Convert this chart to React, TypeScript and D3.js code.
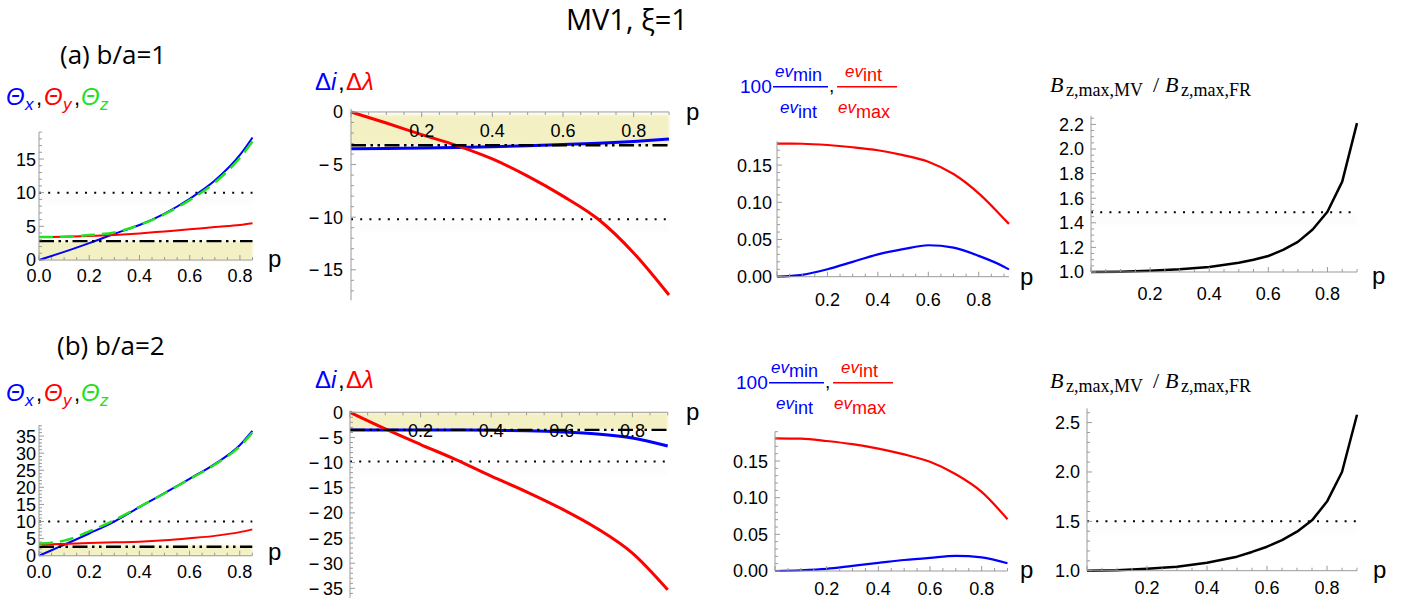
import React from 'react';
import * as d3 from 'd3';

const BLUE = '#0000ff';
const RED = '#ff0000';
const GREEN = '#22e022';
const AXIS = '#9a9a9a';
const SANS = '"Liberation Sans", Arial, sans-serif';
const SERIF = '"Liberation Serif", "Times New Roman", serif';
const TITLE_FONT = '"Open Sans", sans-serif';

// ---------- data ----------
const pTheta = [0, 0.05, 0.1, 0.2, 0.3, 0.4, 0.5, 0.6, 0.7, 0.8, 0.85];
const thetaXa = [0, 0.6, 1.2, 2.5, 3.9, 5.2, 6.9, 9.1, 11.8, 15.6, 18.2];
const thetaYa = [3.4, 3.42, 3.45, 3.55, 3.72, 3.95, 4.25, 4.55, 4.9, 5.2, 5.45];
const thetaZa = [3.4, 3.42, 3.45, 3.7, 4.1, 5.2, 6.8, 8.9, 11.5, 15.2, 17.6];
const thetaXb = [0, 1.6, 3.2, 6.5, 10.0, 14.2, 18.3, 22.5, 26.8, 32.3, 36.5];
const thetaYb = [3.3, 3.35, 3.45, 3.7, 3.9, 4.1, 4.5, 5.1, 5.8, 6.9, 7.7];
const thetaZb = [3.6, 3.8, 4.4, 7.1, 10.4, 14.3, 18.2, 22.4, 26.6, 32.0, 36.0];

const pDelta = [0, 0.1, 0.2, 0.3, 0.4, 0.5, 0.6, 0.7, 0.8, 0.9];
const deltaIa = [-3.5, -3.47, -3.43, -3.37, -3.3, -3.21, -3.1, -2.97, -2.8, -2.58];
const deltaLa = [0, -1.05, -2.15, -3.2, -4.47, -6.1, -8.0, -10.2, -13.4, -17.4];
const deltaIb = [-3.5, -3.5, -3.5, -3.52, -3.58, -3.68, -3.9, -4.3, -5.1, -6.7];
const deltaLb = [0, -3.3, -6.4, -9.4, -12.7, -15.8, -19.2, -23.1, -28.0, -35.3];

const pEvA = [0, 0.1, 0.2, 0.3, 0.4, 0.5, 0.6, 0.7, 0.8, 0.9, 0.92];
const evMinA = [0, 0.0025, 0.01, 0.02, 0.03, 0.037, 0.0423, 0.039, 0.028, 0.0135, 0.0098];
const evIntA = [0.179, 0.1787, 0.177, 0.174, 0.17, 0.1635, 0.1546, 0.138, 0.112, 0.078, 0.071];
const pEvB = [0, 0.1, 0.2, 0.3, 0.4, 0.5, 0.6, 0.7, 0.8, 0.9];
const evMinB = [0, 0.001, 0.003, 0.007, 0.011, 0.015, 0.018, 0.0205, 0.0185, 0.0105];
const evIntB = [0.181, 0.1805, 0.1773, 0.173, 0.167, 0.159, 0.149, 0.132, 0.108, 0.0705];

const pB = [0, 0.1, 0.2, 0.3, 0.4, 0.5, 0.55, 0.6, 0.65, 0.7, 0.75, 0.8, 0.85, 0.9];
const bRatioA = [1.0, 1.003, 1.01, 1.022, 1.04, 1.075, 1.1, 1.13, 1.18, 1.245, 1.345, 1.49, 1.735, 2.21];
const bRatioB = [1.0, 1.005, 1.02, 1.04, 1.08, 1.142, 1.19, 1.243, 1.31, 1.395, 1.51, 1.7, 2.0, 2.58];

// reference levels
const thetaDotted = [10, 10];
const thetaDashDot = [2.8, 2.6];
const thetaBand = [[0, 2.8], [0, 3.0]];
const deltaDotted = [-10.2, -9.8];
const deltaDashDot = [-3.17, -3.5];
const deltaBand = [[-3.2, -0.25], [-3.5, -0.1]];
const bDotted = [1.485, 1.5];

const xTicksTheta = [0, 0.2, 0.4, 0.6, 0.8];
const xTicksInner = [0.2, 0.4, 0.6, 0.8];
const yTicksThetaA = [0, 5, 10, 15];
const yTicksThetaB = [0, 5, 10, 15, 20, 25, 30, 35];
const yTicksDeltaA = [0, -5, -10, -15];
const yTicksDeltaB = [0, -5, -10, -15, -20, -25, -30, -35];
const yTicksEv = [0, 0.05, 0.1, 0.15];
const yTicksBA = [1.0, 1.2, 1.4, 1.6, 1.8, 2.0, 2.2];
const yTicksBB = [1.0, 1.5, 2.0, 2.5];

type Series = { p: number[]; v: number[]; color: string; width: number; dash?: string; linear?: boolean };

type PanelProps = {
  xMax: number; xPx: [number, number];
  yDom: [number, number]; yPx: [number, number];
  yMajor: number[]; yMinorStep: number; yFmt: (v: number) => string;
  xMajor: number[]; xAxisVal: number; xLabDy: number; yGap: number;
  series: Series[];
  band?: number[]; dotted?: number; dashDot?: number;
};

const fmtInt = (v: number) => String(v);
const fmtNeg = (v: number) => (v === 0 ? '0' : '\u2212\u2009' + Math.abs(v));
const fmt2 = d3.format('.2f');
const fmt1 = d3.format('.1f');

function Panel(props: PanelProps) {
  const { xMax, xPx, yDom, yPx, yMajor, yMinorStep, yFmt, xMajor, xAxisVal, xLabDy, yGap, series, band, dotted, dashDot } = props;
  const x = d3.scaleLinear().domain([0, xMax]).range(xPx);
  const y = d3.scaleLinear().domain(yDom).range(yPx);
  const left = xPx[0];
  const right = xPx[1];
  const top = yPx[1];
  const bottom = yPx[0];
  const ax = y(xAxisVal);
  const dir = ax > (top + bottom) / 2 ? -1 : 1;
  const xMinor = d3.range(0, xMax + 1e-9, 0.05);
  const yMinor = d3.range(Math.ceil(yDom[0] / yMinorStep - 1e-9) * yMinorStep, yDom[1] + 1e-9, yMinorStep);
  const isMajorX = (v: number) => Math.abs(v / 0.2 - Math.round(v / 0.2)) < 1e-6;
  const isMajorY = (v: number) => yMajor.some((m) => Math.abs(m - v) < yMinorStep / 10);
  const lineGen = (s: Series) =>
    d3
      .line<number>()
      .x((_, i) => x(s.p[i]))
      .y((d) => y(d))
      .curve(s.linear ? d3.curveLinear : d3.curveMonotoneX)(s.v) || '';
  return (
    <g>
      {band && (
        <rect x={left} y={y(band[1])} width={right - left} height={y(band[0]) - y(band[1])} fill="#f3f0c3" filter="url(#soft)" />
      )}
      {dotted !== undefined && (
        <rect x={left} y={y(dotted) + 1} width={right - left} height={12} fill="#ececec" opacity={0.12} filter="url(#soft)" />
      )}
      {dotted !== undefined && (
        <line x1={left} x2={right} y1={y(dotted)} y2={y(dotted)} stroke="#000" strokeWidth={2} strokeDasharray="2 7.2" />
      )}
      {series.map((s, i) => (
        <path key={i} d={lineGen(s)} fill="none" stroke={s.color} strokeWidth={s.width} strokeDasharray={s.dash} strokeLinejoin="round" />
      ))}
      {dashDot !== undefined && (
        <line x1={left} x2={right} y1={y(dashDot)} y2={y(dashDot)} stroke="#000" strokeWidth={2.4} strokeDasharray="15 4.5 2.5 4.5 2.5 4.5" />
      )}
      <line x1={left} x2={left} y1={top} y2={bottom} stroke={AXIS} strokeWidth={1} />
      <line x1={left} x2={right} y1={ax} y2={ax} stroke={AXIS} strokeWidth={1} />
      {yMinor.map((v, i) => (
        <line key={'ym' + i} x1={left} x2={left + (isMajorY(v) ? 5 : 3)} y1={y(v)} y2={y(v)} stroke={AXIS} strokeWidth={1} />
      ))}
      {xMinor.map((v, i) => (
        <line key={'xm' + i} x1={x(v)} x2={x(v)} y1={ax} y2={ax + dir * (isMajorX(v) ? 5 : 3)} stroke={AXIS} strokeWidth={1} />
      ))}
      {yMajor.map((v, i) => (
        <text key={'yl' + i} x={left - yGap} y={y(v)} dy="0.36em" textAnchor="end" fontFamily={SANS} fontSize={18} fill="#000">
          {yFmt(v)}
        </text>
      ))}
      {xMajor.map((v, i) => (
        <text key={'xl' + i} x={x(v)} y={ax + xLabDy} textAnchor="middle" fontFamily={SANS} fontSize={18} fill="#000">
          {fmt1(v)}
        </text>
      ))}
    </g>
  );
}

function T(props: any) {
  const { children, ...rest } = props;
  return <text {...rest}>{children}</text>;
}

function ThetaLabel({ y0 }: { y0: number }) {
  const f = { fontFamily: SANS, fontStyle: 'italic' as const };
  return (
    <g>
      <T x={6} y={y0} {...f} fontSize={24} fill={BLUE}>Θ</T>
      <T x={25} y={y0 + 5} {...f} fontSize={17} fill={BLUE}>x</T>
      <T x={36} y={y0} fontFamily={SANS} fontSize={22} fill="#000">,</T>
      <T x={44} y={y0} {...f} fontSize={24} fill={RED}>Θ</T>
      <T x={63} y={y0 + 5} {...f} fontSize={17} fill={RED}>y</T>
      <T x={74} y={y0} fontFamily={SANS} fontSize={22} fill="#000">,</T>
      <T x={81} y={y0} {...f} fontSize={24} fill={GREEN}>Θ</T>
      <T x={100} y={y0 + 5} {...f} fontSize={17} fill={GREEN}>z</T>
    </g>
  );
}

function DeltaLabel({ y0 }: { y0: number }) {
  return (
    <g fontFamily={SANS} fontSize={24}>
      <T x={315} y={y0} fill={BLUE}>Δ</T>
      <T x={331} y={y0} fill={BLUE} fontStyle="italic">i</T>
      <T x={338} y={y0} fill="#000">,</T>
      <T x={346} y={y0} fill={RED}>Δ</T>
      <T x={362} y={y0} fill={RED} fontStyle="italic">λ</T>
    </g>
  );
}

function Frac({ x0, ly, color, num, den }: { x0: [number, number]; ly: number; color: string; num: string; den: string }) {
  return (
    <g fontFamily={SANS} fill={color}>
      <text x={x0[0]} y={ly - 10}>
        <tspan fontStyle="italic" fontSize={17}>ev</tspan>
        <tspan fontSize={18} dy={4}>{num}</tspan>
      </text>
      <text x={x0[1]} y={ly + 26}>
        <tspan fontStyle="italic" fontSize={17}>ev</tspan>
        <tspan fontSize={18} dy={5}>{den}</tspan>
      </text>
    </g>
  );
}

function EvLabel({ dx, dy }: { dx: number; dy: number }) {
  const ly = 86.7 + dy;
  return (
    <g>
      <T x={740 + dx} y={ly + 6.5} fontFamily={SANS} fontSize={19} fill={BLUE}>100</T>
      <line x1={773 + dx} x2={828 + dx} y1={ly} y2={ly} stroke={BLUE} strokeWidth={1.5} />
      <Frac x0={[775 + dx, 780 + dx]} ly={ly} color={BLUE} num="min" den="int" />
      <T x={829 + dx} y={ly + 5} fontFamily={SANS} fontSize={19} fill="#000">,</T>
      <line x1={837 + dx} x2={897 + dx} y1={ly} y2={ly} stroke={RED} strokeWidth={1.5} />
      <Frac x0={[845 + dx, 838 + dx]} ly={ly} color={RED} num="int" den="max" />
    </g>
  );
}

function BLabel({ y0 }: { y0: number }) {
  return (
    <g fontFamily={SERIF} fill="#000">
      <T x={1050} y={y0} fontSize={22} fontStyle="italic">B</T>
      <T x={1066} y={y0 + 4} fontSize={18}>z,max,MV</T>
      <T x={1153} y={y0} fontSize={22}>/</T>
      <T x={1165} y={y0} fontSize={22} fontStyle="italic">B</T>
      <T x={1181} y={y0 + 4} fontSize={18}>z,max,FR</T>
    </g>
  );
}

const pLabels = [
  [268, 267], [686, 120], [1020, 285], [1372, 284],
  [268, 560], [686, 420], [1020, 578], [1373, 578],
];

export default function App() {
  return (
    <div style={{ position: 'absolute', left: 0, top: 0 }}>
      <svg width={1416} height={605} viewBox="0 0 1416 605" style={{ display: 'block', background: '#fff' }}>
        <defs>
          <filter id="soft" x="-5%" y="-50%" width="110%" height="200%">
            <feGaussianBlur stdDeviation="1.6" />
          </filter>
        </defs>
        <rect width={1416} height={605} fill="#fff" />
        <T x={566} y={30} fontFamily={TITLE_FONT} fontSize={29} fill="#000">MV1, ξ=1</T>
        <T x={60} y={64} fontFamily={TITLE_FONT} fontSize={26} fill="#000">(a) b/a=1</T>
        <T x={57} y={355} fontFamily={TITLE_FONT} fontSize={26} fill="#000">(b) b/a=2</T>

        <ThetaLabel y0={105} />
        <ThetaLabel y0={401} />
        <DeltaLabel y0={90} />
        <DeltaLabel y0={388} />
        <EvLabel dx={0} dy={0} />
        <EvLabel dx={-4} dy={296} />
        <BLabel y0={92} />
        <BLabel y0={388} />

        {/* row a */}
        <Panel xMax={0.85} xPx={[39, 252.5]} yDom={[0, 19]} yPx={[260, 132.1]} yMajor={yTicksThetaA} yMinorStep={1} yFmt={fmtInt}
          xMajor={xTicksTheta} xAxisVal={0} xLabDy={22} yGap={3} band={thetaBand[0]} dotted={thetaDotted[0]} dashDot={thetaDashDot[0]}
          series={[
            { p: pTheta, v: thetaXa, color: BLUE, width: 2 },
            { p: pTheta, v: thetaYa, color: RED, width: 2 },
            { p: pTheta, v: thetaZa, color: GREEN, width: 2.5, dash: '14 7' },
          ]} />
        <Panel xMax={0.9} xPx={[351, 669]} yDom={[-17.9, 0.3]} yPx={[300.3, 108.8]} yMajor={yTicksDeltaA} yMinorStep={1} yFmt={fmtNeg}
          xMajor={xTicksInner} xAxisVal={0} xLabDy={25} yGap={8} band={deltaBand[0]} dotted={deltaDotted[0]} dashDot={deltaDashDot[0]}
          series={[
            { p: pDelta, v: deltaIa, color: BLUE, width: 3 },
            { p: pDelta, v: deltaLa, color: RED, width: 3 },
          ]} />
        <Panel xMax={0.92} xPx={[777, 1009]} yDom={[0, 0.182]} yPx={[276.7, 141.3]} yMajor={yTicksEv} yMinorStep={0.01} yFmt={fmt2}
          xMajor={xTicksInner} xAxisVal={0} xLabDy={29} yGap={5}
          series={[
            { p: pEvA, v: evMinA, color: BLUE, width: 2.2 },
            { p: pEvA, v: evIntA, color: RED, width: 2.2 },
          ]} />
        <Panel xMax={0.9} xPx={[1091, 1357]} yDom={[1, 2.27]} yPx={[272, 115.8]} yMajor={yTicksBA} yMinorStep={0.05} yFmt={fmt1}
          xMajor={xTicksInner} xAxisVal={1} xLabDy={28} yGap={7} dotted={bDotted[0]}
          series={[{ p: pB, v: bRatioA, color: '#000', width: 2.5, linear: true }]} />

        {/* row b */}
        <Panel xMax={0.85} xPx={[39, 252.3]} yDom={[0, 38.2]} yPx={[555.7, 425.1]} yMajor={yTicksThetaB} yMinorStep={1} yFmt={fmtInt}
          xMajor={xTicksTheta} xAxisVal={0} xLabDy={22} yGap={3} band={thetaBand[1]} dotted={thetaDotted[1]} dashDot={thetaDashDot[1]}
          series={[
            { p: pTheta, v: thetaXb, color: BLUE, width: 2 },
            { p: pTheta, v: thetaYb, color: RED, width: 2 },
            { p: pTheta, v: thetaZb, color: GREEN, width: 2.5, dash: '14 7' },
          ]} />
        <Panel xMax={0.9} xPx={[350, 667.7]} yDom={[-36.9, 0.4]} yPx={[597.9, 410.3]} yMajor={yTicksDeltaB} yMinorStep={1} yFmt={fmtNeg}
          xMajor={xTicksInner} xAxisVal={0} xLabDy={25} yGap={7} band={deltaBand[1]} dotted={deltaDotted[1]} dashDot={deltaDashDot[1]}
          series={[
            { p: pDelta, v: deltaIb, color: BLUE, width: 3 },
            { p: pDelta, v: deltaLb, color: RED, width: 3 },
          ]} />
        <Panel xMax={0.9} xPx={[775, 1007.5]} yDom={[0, 0.19]} yPx={[571, 431.7]} yMajor={yTicksEv} yMinorStep={0.01} yFmt={fmt2}
          xMajor={xTicksInner} xAxisVal={0} xLabDy={24} yGap={7}
          series={[
            { p: pEvB, v: evMinB, color: BLUE, width: 2.2 },
            { p: pEvB, v: evIntB, color: RED, width: 2.2 },
          ]} />
        <Panel xMax={0.9} xPx={[1087, 1357]} yDom={[1, 2.645]} yPx={[570.7, 408.3]} yMajor={yTicksBB} yMinorStep={0.1} yFmt={fmt1}
          xMajor={xTicksInner} xAxisVal={1} xLabDy={23} yGap={7} dotted={bDotted[1]}
          series={[{ p: pB, v: bRatioB, color: '#000', width: 2.5, linear: true }]} />

        {pLabels.map(([px, py], i) => (
          <T key={i} x={px} y={py} fontFamily={SANS} fontSize={24} fill="#000">p</T>
        ))}
      </svg>
    </div>
  );
}
